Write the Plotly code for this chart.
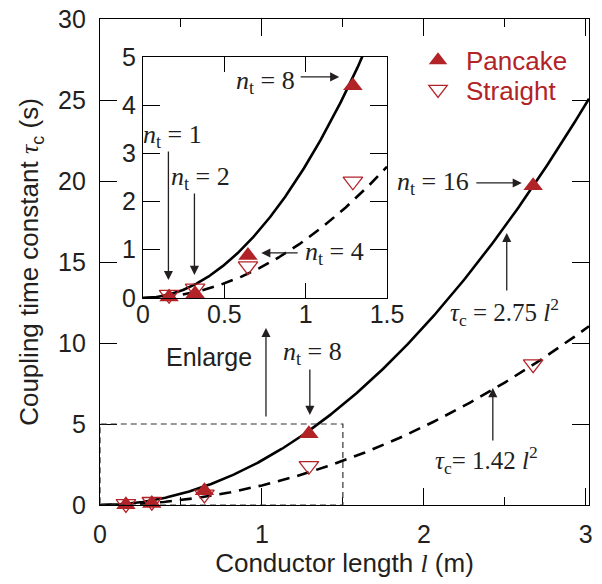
import numpy as np
import plotly.graph_objects as go

# ---------------- data ----------------
length_m = [0.16, 0.32, 0.645, 1.29, 2.675]          # conductor length l (m)
turns = [1, 2, 4, 8, 16]                              # n_t
pancake_tau = [0.02, 0.09, 0.88, 4.40, 19.7]          # tau_c (s), pancake
straight_tau = [0.07, 0.20, 0.66, 2.42, 8.70]         # tau_c (s), straight
fit_pancake_coef = 2.75                               # solid curve
fit_straight_coef = 1.21                              # dashed curve as drawn
fit_pancake_label = "2.75"
fit_straight_label = "1.42"
main_x_ticks = [0, 1, 2, 3]
main_x_minor = [0.5, 1.5, 2.5]
main_y_ticks = [0, 5, 10, 15, 20, 25, 30]
inset_x_ticks = [0, 0.5, 1, 1.5]
inset_x_text = ["0", "0.5", "1", "1.5"]
inset_y_ticks = [0, 1, 2, 3, 4, 5]
enlarge_box = [0, 0, 1.5, 5]

RED = "#B22328"
INK = "#231F20"
SANS = "Arial, Liberation Sans, sans-serif"
SERIF = "Times New Roman, Liberation Serif, serif"

fig = go.Figure()

def curves(xa, ya, xmax):
    xs = np.linspace(0, xmax, 300)
    fig.add_trace(go.Scatter(x=xs, y=fit_pancake_coef * xs**2, mode="lines",
                             line=dict(color="black", width=2.6), xaxis=xa, yaxis=ya,
                             showlegend=False, hoverinfo="skip"))
    fig.add_trace(go.Scatter(x=xs, y=fit_straight_coef * xs**2, mode="lines",
                             line=dict(color="black", width=2.6, dash="12px,8px"),
                             xaxis=xa, yaxis=ya, showlegend=False, hoverinfo="skip"))

def points(xa, ya, legend):
    fig.add_trace(go.Scatter(x=length_m, y=straight_tau, mode="markers", name="Straight",
                             marker=dict(symbol="triangle-down-open", size=17,
                                         color=RED, line=dict(color=RED, width=1.3)),
                             xaxis=xa, yaxis=ya, showlegend=legend, legend="legend2",
                             cliponaxis=False))
    fig.add_trace(go.Scatter(x=length_m, y=pancake_tau, mode="markers", name="Pancake",
                             marker=dict(symbol="triangle-up", size=17, color=RED,
                                         line=dict(width=0)),
                             xaxis=xa, yaxis=ya, showlegend=legend, legend="legend",
                             cliponaxis=False))

curves("x", "y", 3.02)
points("x", "y", True)
curves("x2", "y2", 1.5)
points("x2", "y2", False)

# enlarge box
fig.add_shape(type="rect", xref="x", yref="y", x0=enlarge_box[0], y0=enlarge_box[1],
              x1=enlarge_box[2], y1=enlarge_box[3],
              line=dict(color="#333333", width=1.2, dash="6px,4px"))

ann = []
def text(x, y, t, ref="", family=SERIF, size=26):
    ann.append(dict(x=x, y=y, xref="x" + ref, yref="y" + ref, text=t, showarrow=False,
                    font=dict(family=family, size=size, color=INK),
                    xanchor="center", yanchor="middle"))

def arrow(x0, y0, x1, y1, ref=""):
    ann.append(dict(x=x1, y=y1, ax=x0, ay=y0, xref="x" + ref, yref="y" + ref,
                    axref="x" + ref, ayref="y" + ref, text="", showarrow=True,
                    arrowhead=2, arrowsize=1.4, arrowwidth=1.3, arrowcolor=INK,
                    standoff=0))

nt = "<i>n</i><sub>t</sub> = {}"
# main plot annotations
text(2.056, 19.88, nt.format(turns[4]))
arrow(2.315, 19.88, 2.605, 19.88)
text(2.50, 11.91, "<i>τ</i><sub>c</sub> = " + fit_pancake_label + " <i>l</i><sup>2</sup>", size=25)
arrow(2.512, 13.15, 2.512, 16.79)
text(2.389, 2.78, "<i>τ</i><sub>c</sub>= " + fit_straight_label + " <i>l</i><sup>2</sup>", size=25)
arrow(2.426, 3.89, 2.426, 7.22)
text(1.315, 9.38, nt.format(turns[3]))
arrow(1.296, 8.46, 1.296, 5.56)
text(0.673, 9.14, "Enlarge", family=SANS, size=25)
arrow(1.025, 5.37, 1.025, 10.93)
# inset annotations
text(0.752, 4.48, nt.format(turns[3]), "2")
arrow(0.96, 4.585, 1.206, 4.585, "2")
text(0.181, 3.36, nt.format(turns[0]), "2")
arrow(0.156, 3.07, 0.156, 0.373, "2")
text(0.353, 2.49, nt.format(turns[1]), "2")
arrow(0.316, 2.2, 0.316, 0.477, "2")
text(1.175, 0.934, nt.format(turns[2]), "2")
arrow(0.96, 0.934, 0.727, 0.934, "2")

axis_common = dict(showline=True, linecolor="black", linewidth=1.3, mirror="ticks",
                   ticks="inside", tickcolor="black", tickwidth=1.3, showgrid=False,
                   zeroline=False, automargin=False, ticklabeloverflow="allow",
                   tickfont=dict(family=SANS, size=25, color=INK))

legend_common = dict(xanchor="left", yanchor="middle",
                     font=dict(family=SANS, size=26, color=RED),
                     bgcolor="rgba(0,0,0,0)", itemwidth=46)

fig.update_layout(
    width=602, height=584,
    margin=dict(l=100, r=13, t=19, b=79, autoexpand=False),
    paper_bgcolor="white", plot_bgcolor="white",
    font=dict(family=SANS, size=25, color=INK),
    xaxis=dict(axis_common, domain=[0, 1], range=[0, 3.02], tickvals=main_x_ticks,
               ticklen=17, ticklabelstandoff=7,
               minor=dict(tickvals=main_x_minor, ticklen=8, ticks="inside",
                          tickcolor="black", tickwidth=1.3),
               title=dict(text="Conductor length <span style='font-family:Liberation Serif'><i>l</i></span> (m)",
                          font=dict(family=SANS, size=26, color=INK), standoff=6)),
    yaxis=dict(axis_common, domain=[0, 1], range=[0, 30], tickvals=main_y_ticks,
               ticklen=17, ticklabelstandoff=8,
               title=dict(text="Coupling time constant <span style='font-family:Liberation Serif'><i>τ</i></span><sub>c</sub> (s)",
                          font=dict(family=SANS, size=26, color=INK), standoff=11)),
    xaxis2=dict(axis_common, domain=[0.088, 0.587], anchor="y2", range=[0, 1.5],
                tickvals=inset_x_ticks, ticktext=inset_x_text, ticklen=15,
                ticklabelstandoff=-6),
    yaxis2=dict(axis_common, domain=[0.426, 0.922], anchor="x2", range=[0, 5],
                tickvals=inset_y_ticks, ticklen=17, ticklabelstandoff=1),
    legend=dict(legend_common, x=0.634, y=0.915),
    legend2=dict(legend_common, x=0.634, y=0.855),
    annotations=ann,
    showlegend=True,
)

# remove the default 8px page margin so the figure fills the window exactly
fig.write_html("out.html", config={"displayModeBar": False},
               post_script="document.body.style.margin='0';")
